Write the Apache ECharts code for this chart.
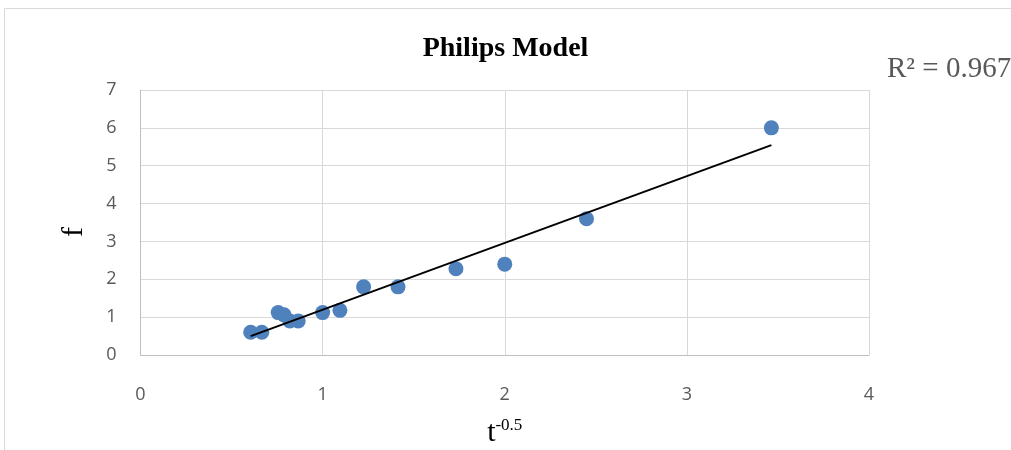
<!DOCTYPE html>
<html>
<head>
    <meta charset="utf-8">
    <title>Philips Model</title>
    <script src="https://cdn.jsdelivr.net/npm/echarts@6.0.0/dist/echarts.min.js"></script>
</head>
<body style="margin:0;background:#fff">
<div id="main" style="width:1011px;height:450px;"></div>
<script type="text/javascript">
    // measured points: x = t^-0.5, y = f
    var tInv = [0.605, 0.666, 0.756, 0.788, 0.82, 0.866, 1.0, 1.095, 1.225, 1.414, 1.732, 2.0, 2.449, 3.464];
    var fVals = [0.6, 0.6, 1.12, 1.06, 0.9, 0.9, 1.12, 1.18, 1.8, 1.8, 2.28, 2.4, 3.6, 6.0];
    var xTicks = [0, 1, 2, 3, 4];
    var yTicks = [0, 1, 2, 3, 4, 5, 6, 7];
    var r2Label = 'R² = 0.967';

    var points = tInv.map(function (x, i) { return [x, fVals[i]]; });

    // least squares trend line over the data range
    var n = tInv.length, mx = 0, my = 0;
    for (var i = 0; i < n; i++) { mx += tInv[i]; my += fVals[i]; }
    mx /= n; my /= n;
    var sxy = 0, sxx = 0;
    for (i = 0; i < n; i++) {
        sxy += (tInv[i] - mx) * (fVals[i] - my);
        sxx += (tInv[i] - mx) * (tInv[i] - mx);
    }
    var slope = sxy / sxx, icpt = my - slope * mx;
    var xMin = Math.min.apply(null, tInv), xMax = Math.max.apply(null, tInv);
    var trend = [[xMin, icpt + slope * xMin], [xMax, icpt + slope * xMax]];

    var myChart = echarts.init(document.getElementById('main'));
    var gridColor = '#d9d9d9';
    var labelStyle = { color: '#595959', fontSize: 18, fontFamily: 'Open Sans' };

    var option = {
        animation: false,
        title: {
            text: 'Philips Model',
            left: 'center',
            top: 30,
            textStyle: { fontFamily: 'Liberation Serif', fontWeight: 'bold', fontSize: 28, color: '#000' }
        },
        grid: { left: 140.5, right: 142, top: 90, bottom: 95, outerBoundsMode: 'none' },
        xAxis: {
            type: 'value',
            min: xTicks[0],
            max: xTicks[xTicks.length - 1],
            interval: 1,
            name: '{b|t}{s|-0.5}',
            nameLocation: 'middle',
            nameGap: 62,
            nameTextStyle: {
                rich: {
                    b: { fontFamily: 'Liberation Serif', fontSize: 30, color: '#000', lineHeight: 32 },
                    s: { fontFamily: 'Liberation Serif', fontSize: 17, color: '#000', verticalAlign: 'top', lineHeight: 32, padding: [0, 0, 14, 0] }
                }
            },
            axisLine: { show: true, lineStyle: { color: '#bfbfbf', width: 1 } },
            axisTick: { show: false },
            axisLabel: Object.assign({ margin: 31 }, labelStyle),
            splitLine: { show: true, lineStyle: { color: gridColor, width: 1 } }
        },
        yAxis: {
            type: 'value',
            min: yTicks[0],
            max: yTicks[yTicks.length - 1],
            interval: 1,
            axisLine: { show: true, lineStyle: { color: '#bfbfbf', width: 1 } },
            axisTick: { show: false },
            axisLabel: Object.assign({ margin: 24 }, labelStyle),
            splitLine: { show: true, lineStyle: { color: gridColor, width: 1 } }
        },
        graphic: [
            {
                type: 'rect',
                shape: { x: 4.5, y: 8.5, width: 1100, height: 600 },
                style: { fill: 'none', stroke: '#d9d9d9', lineWidth: 1 },
                silent: true
            },
            {
                type: 'text',
                x: 74,
                y: 232,
                rotation: Math.PI / 2,
                style: { text: 'f', fontFamily: 'Liberation Serif', fontSize: 30, fill: '#000', align: 'center', verticalAlign: 'middle' }
            },
            {
                type: 'text',
                left: 887,
                top: 55,
                style: { text: r2Label, fontFamily: 'Liberation Serif', fontSize: 29, fill: '#595959' }
            }
        ],
        series: [
            {
                type: 'scatter',
                data: points,
                symbolSize: 15,
                itemStyle: { color: '#4f81bd', opacity: 1 },
                z: 2
            },
            {
                type: 'line',
                data: trend,
                showSymbol: false,
                lineStyle: { color: '#000', width: 2 },
                z: 3
            }
        ]
    };

    myChart.setOption(option);
</script>
</body>
</html>
